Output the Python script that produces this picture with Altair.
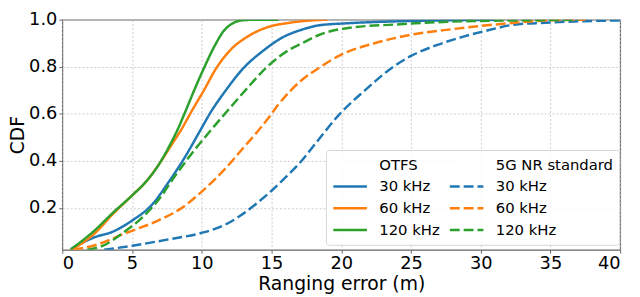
import altair as alt
import pandas as pd

# ---- data (x = ranging error in m, y = CDF) ----
otfs30_x = [0.6, 1.2, 2.22, 3.63, 5.03, 6.44, 7.62, 8.79, 9.96, 10.67, 11.6, 13.0, 14.4, 15.8, 17.2, 18.4, 20.5, 24.0, 27.6, 31.0]
otfs30_y = [0.025, 0.045, 0.074, 0.10, 0.148, 0.215, 0.31, 0.416, 0.537, 0.61, 0.69, 0.795, 0.868, 0.925, 0.958, 0.976, 0.985, 0.993, 0.997, 1.0]

otfs60_x = [0.6, 1.4, 2.22, 3.63, 5.03, 5.97, 6.9, 7.85, 8.5, 9.26, 10.2, 11.0, 12.08, 13.25, 14.66, 16.3, 18.2, 19.0]
otfs60_y = [0.022, 0.05, 0.087, 0.175, 0.255, 0.31, 0.383, 0.47, 0.53, 0.61, 0.705, 0.79, 0.873, 0.927, 0.967, 0.987, 0.998, 1.0]

otfs120_x = [0.6, 1.4, 2.22, 3.63, 5.03, 5.97, 6.9, 7.62, 8.32, 8.79, 9.49, 10.2, 10.9, 11.6, 12.3, 13.0, 14.0, 15.5]
otfs120_y = [0.025, 0.06, 0.10, 0.18, 0.255, 0.31, 0.383, 0.457, 0.54, 0.605, 0.705, 0.80, 0.886, 0.954, 0.987, 0.998, 1.0, 1.0]

nr30_x = [3.0, 5.03, 7.62, 9.96, 11.6, 12.78, 13.96, 14.9, 16.0, 17.15, 18.1, 19.9, 21.7, 23.5, 25.0, 26.9, 28.7, 30.6, 32.3, 34.6, 37.0, 40.0]
nr30_y = [0.023, 0.04, 0.067, 0.094, 0.127, 0.168, 0.221, 0.268, 0.33, 0.40, 0.47, 0.60, 0.70, 0.79, 0.846, 0.893, 0.927, 0.956, 0.978, 0.987, 0.993, 0.997]

nr60_x = [0.8, 2.22, 4.56, 6.9, 8.56, 9.96, 11.6, 13.0, 14.0, 14.75, 15.5, 16.3, 17.2, 18.4, 20.05, 22.4, 25.2, 28.0, 31.1, 34.6, 37.5]
nr60_y = [0.023, 0.04, 0.094, 0.148, 0.2, 0.268, 0.362, 0.457, 0.525, 0.58, 0.64, 0.695, 0.745, 0.795, 0.853, 0.90, 0.938, 0.96, 0.98, 0.996, 1.0]

nr120_x = [1.8, 2.92, 4.33, 5.74, 6.9, 8.08, 9.26, 10.5, 11.8, 13.2, 14.6, 16.3, 17.2, 18.4, 20.5, 24.0, 27.6, 30.6, 34.0, 37.0]
nr120_y = [0.023, 0.04, 0.094, 0.16, 0.235, 0.336, 0.43, 0.52, 0.61, 0.705, 0.795, 0.873, 0.90, 0.935, 0.965, 0.98, 0.991, 0.995, 0.998, 1.0]

# legend entries, column by column (headers have no line)
series_names = ["OTFS", "OTFS|30 kHz", "OTFS|60 kHz", "OTFS|120 kHz",
                "5G NR standard", "5G NR|30 kHz", "5G NR|60 kHz", "5G NR|120 kHz"]
series_colors = ["transparent", "#1f77b4", "#ff7f0e", "#2ca02c",
                 "transparent", "#1f77b4", "#ff7f0e", "#2ca02c"]
series_dash = [[1, 0], [1, 0], [1, 0], [1, 0],
               [1, 0], [10, 4], [10, 4], [10, 4]]

x_ticks = [0, 5, 10, 15, 20, 25, 30, 35, 40]
y_ticks = [0.2, 0.4, 0.6, 0.8, 1.0]

rows = []
for name, xs, ys in [
    ("OTFS|30 kHz", otfs30_x, otfs30_y),
    ("OTFS|60 kHz", otfs60_x, otfs60_y),
    ("OTFS|120 kHz", otfs120_x, otfs120_y),
    ("5G NR|30 kHz", nr30_x, nr30_y),
    ("5G NR|60 kHz", nr60_x, nr60_y),
    ("5G NR|120 kHz", nr120_x, nr120_y),
]:
    for i, (xv, yv) in enumerate(zip(xs, ys)):
        rows.append({"series": name, "x": xv, "y": yv, "order": i})
df = pd.DataFrame(rows)

legend = alt.Legend(
    title=None,
    orient="none",
    legendX=267,
    legendY=132,
    columns=2,
    columnPadding=8,
    rowPadding=4,
    clipHeight=18,
    symbolType="stroke",
    symbolSize=1156,
    symbolStrokeWidth=2.5,
    labelFontSize=15,
    labelFont="DejaVu Sans",
    labelColor="#000000",
    labelOffset=11,
    labelExpr="indexof(datum.label, '|') >= 0 ? split(datum.label, '|')[1] : datum.label",
    fillColor="rgba(255,255,255,0.85)",
    strokeColor="#d5d5d5",
    cornerRadius=3,
    padding=6,
)

chart = alt.Chart(df).mark_line(strokeWidth=2.5, interpolate="monotone", clip=True).encode(
    x=alt.X("x:Q", title="Ranging error (m)",
            scale=alt.Scale(domain=[0, 40], nice=False, zero=False),
            axis=alt.Axis(values=x_ticks, format="d")),
    y=alt.Y("y:Q", title="CDF",
            scale=alt.Scale(domain=[0.023, 1.0], nice=False, zero=False),
            axis=alt.Axis(values=y_ticks, format=".1f")),
    color=alt.Color("series:N", scale=alt.Scale(domain=series_names, range=series_colors), legend=legend),
    strokeDash=alt.StrokeDash("series:N", scale=alt.Scale(domain=series_names, range=series_dash), legend=legend),
    order="order:Q",
).properties(
    width=565,
    height=233,
    autosize=alt.AutoSizeParams(type="none"),
    padding={"left": 55, "top": 10, "right": 12, "bottom": 44},
).configure_view(
    stroke="#666666",
    strokeWidth=1.2,
).configure_axis(
    grid=True,
    gridColor="#c0c0c0",
    gridDash=[2, 2],
    gridWidth=0.8,
    domain=False,
    tickColor="#666666",
    tickSize=3.5,
    labelFont="DejaVu Sans",
    labelFontSize=18,
    labelColor="#000000",
    titleFont="DejaVu Sans",
    titleFontSize=19,
    titleFontWeight="normal",
    titleColor="#000000",
    labelPadding=2,
).configure_axisX(
    titlePadding=2,
).configure_axisY(
    titlePadding=1,
)

chart.save("out.html", embed_options={"renderer": "svg", "actions": False})
